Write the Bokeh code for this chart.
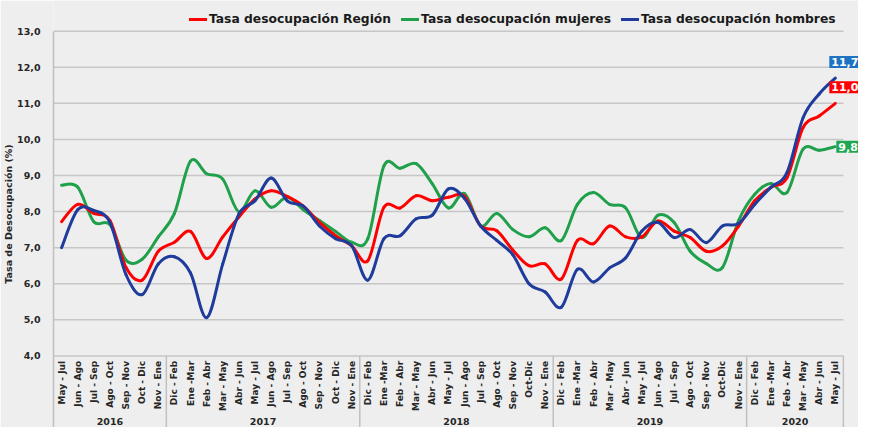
import numpy as np
from bokeh.plotting import figure
from bokeh.models import (Range1d, FixedTicker, Label, Legend, LegendItem, ColumnDataSource)
from bokeh.core.properties import value
from bokeh.embed import file_html
from bokeh.resources import INLINE

years = ["2016", "2017", "2018", "2019", "2020"]
periods_2016 = ["May - Jul", "Jun - Ago", "Jul - Sep", "Ago - Oct", "Sep - Nov", "Oct - Dic", "Nov - Ene"]
periods_2017 = ["Dic - Feb", "Ene -Mar", "Feb - Abr", "Mar - May", "Abr - Jun", "May - Jul", "Jun - Ago",
                "Jul - Sep", "Ago - Oct", "Sep - Nov", "Oct - Dic", "Nov - Ene"]
periods_2018 = ["Dic - Feb", "Ene -Mar", "Feb - Abr", "Mar - May", "Abr - Jun", "May - Jul", "Jun - Ago",
                "Jul - Sep", "Ago - Oct", "Sep - Nov", "Oct-Dic", "Nov - Ene"]
periods_2019 = ["Dic - Feb", "Ene -Mar", "Feb - Abr", "Mar - May", "Abr - Jun", "May - Jul", "Jun - Ago",
                "Jul - Sep", "Ago - Oct", "Sep - Nov", "Oct-Dic", "Nov - Ene"]
periods_2020 = ["Dic - Feb", "Ene -Mar", "Feb - Abr", "Mar - May", "Abr - Jun", "May - Jul"]
year_periods = [periods_2016, periods_2017, periods_2018, periods_2019, periods_2020]

region = [7.72, 8.20, 7.95, 7.75, 6.45, 6.10, 6.90,
          7.15, 7.45, 6.70, 7.30, 7.85, 8.35, 8.58, 8.42, 8.15, 7.70, 7.33, 7.05,
          6.64, 8.12, 8.10, 8.44, 8.30, 8.40, 8.42, 7.60, 7.47, 6.93, 6.50, 6.55,
          6.13, 7.20, 7.11, 7.60, 7.30, 7.30, 7.74, 7.46, 7.28, 6.90, 7.05, 7.60,
          8.30, 8.67, 8.94, 10.33, 10.65, 11.0]
mujeres = [8.73, 8.68, 7.72, 7.64, 6.65, 6.68, 7.30,
           7.95, 9.40, 9.05, 8.90, 8.00, 8.58, 8.12, 8.40, 8.05, 7.75, 7.45, 7.15,
           7.25, 9.27, 9.20, 9.33, 8.77, 8.10, 8.50, 7.60, 7.95, 7.50, 7.30, 7.55,
           7.20, 8.20, 8.53, 8.20, 8.10, 7.28, 7.90, 7.70, 6.90, 6.56, 6.45, 7.75,
           8.48, 8.78, 8.53, 9.73, 9.70, 9.8]
hombres = [7.00, 8.05, 8.03, 7.70, 6.25, 5.70, 6.55,
           6.75, 6.30, 5.06, 6.55, 7.93, 8.30, 8.93, 8.30, 8.15, 7.60, 7.25, 7.05,
           6.10, 7.25, 7.33, 7.80, 7.90, 8.63, 8.36, 7.60, 7.20, 6.80, 6.00, 5.77,
           5.35, 6.40, 6.05, 6.44, 6.72, 7.46, 7.70, 7.28, 7.50, 7.14, 7.60, 7.67,
           8.20, 8.67, 9.08, 10.60, 11.26, 11.7]

y_ticks = [4.0, 5.0, 6.0, 7.0, 8.0, 9.0, 10.0, 11.0, 12.0, 13.0]
y_tick_labels = ["4,0", "5,0", "6,0", "7,0", "8,0", "9,0", "10,0", "11,0", "12,0", "13,0"]

names = ["Tasa desocupación Región", "Tasa desocupación mujeres", "Tasa desocupación hombres"]
colors = ["#FF0000", "#20A04A", "#1F3C9C"]
box_colors = ["#FF0000", "#1FA651", "#1E72C2"]

FONT = "DejaVu Sans"
TXT = "#262626"
PX_PER_UNIT = 36.08      # vertical scale, px per 1 %
X_PX = 16.2              # px per category

periods = [p_ for grp in year_periods for p_ in grp]
n = len(periods)
xs = np.arange(n) + 0.5
sizes = [len(g) for g in year_periods]
bounds_ = np.concatenate([[0], np.cumsum(sizes)]).astype(float)
year_centers = (bounds_[:-1] + bounds_[1:]) / 2.0

W, H = 858, 427
LEFT = 49
TOP_PAD = 30.7           # px from figure top to the 13,0 line
y_end = y_ticks[-1] + TOP_PAD / PX_PER_UNIT
y_start = y_end - H / PX_PER_UNIT
x_end = (W - LEFT) / X_PX

p = figure(width=W, height=H,
           x_range=Range1d(0, x_end), y_range=Range1d(y_start, y_end),
           output_backend="svg", toolbar_location=None,
           x_axis_location=None, y_axis_location="left",
           min_border_left=LEFT, min_border_right=0, min_border_top=0, min_border_bottom=0,
           background_fill_color="#EEEEEE", border_fill_color="#EEEEEE",
           outline_line_color=None)
p.xgrid.visible = False
p.ygrid.visible = False

# horizontal grid lines
p.segment(x0=[bounds_[0]] * len(y_ticks), x1=[bounds_[-1]] * len(y_ticks),
          y0=y_ticks, y1=y_ticks, line_color="#C6C6C6", line_width=1.5)

# group separators below the category axis
p.segment(x0=bounds_[1:], x1=bounds_[1:], y0=[y_ticks[0]] * (len(bounds_) - 1),
          y1=[y_start] * (len(bounds_) - 1), line_color="#C0C0C0", line_width=1.5)

# y axis
ya = p.yaxis[0]
ya.ticker = FixedTicker(ticks=y_ticks)
ya.major_label_overrides = dict(zip(y_ticks, y_tick_labels))
ya.bounds = (y_start, y_ticks[-1])
ya.axis_line_color = "#C0C0C0"
ya.axis_line_width = 1.5
ya.major_tick_line_color = None
ya.minor_tick_line_color = None
ya.major_label_standoff = 7
ya.major_label_text_font = FONT
ya.major_label_text_font_style = "bold"
ya.major_label_text_font_size = "9.5px"
ya.major_label_text_color = TXT
ya.axis_label = "Tasa de Desocupación (%)"
ya.axis_label_text_font = FONT
ya.axis_label_text_font_style = "bold"
ya.axis_label_text_font_size = "9.5px"
ya.axis_label_text_color = TXT
ya.axis_label_standoff = 0

# category labels (vertical) and year labels
p.text(x=xs, y=[y_ticks[0] - 5.0 / PX_PER_UNIT] * n, text=periods, angle=np.pi / 2,
       text_align="right", text_baseline="middle",
       text_font=value(FONT), text_font_style="bold", text_font_size="9px", text_color=TXT)
p.text(x=year_centers, y=[y_ticks[0] - 66.0 / PX_PER_UNIT] * len(years), text=years,
       text_align="center", text_baseline="middle",
       text_font=value(FONT), text_font_style="bold", text_font_size="9.5px", text_color=TXT)


def smooth_source(xv, yv):
    xv = np.asarray(xv, float)
    yv = np.asarray(yv, float)
    m = len(xv)
    xp = np.concatenate([[xv[0]], xv, [xv[-1]]])
    yp = np.concatenate([[yv[0]], yv, [yv[-1]]])
    return ColumnDataSource(dict(
        x0=xp[1:m], y0=yp[1:m], x1=xp[2:m + 1], y1=yp[2:m + 1],
        cx0=xp[1:m] + (xp[2:m + 1] - xp[0:m - 1]) / 6.0,
        cy0=yp[1:m] + (yp[2:m + 1] - yp[0:m - 1]) / 6.0,
        cx1=xp[2:m + 1] - (xp[3:m + 2] - xp[1:m]) / 6.0,
        cy1=yp[2:m + 1] - (yp[3:m + 2] - yp[1:m]) / 6.0,
    ))


series = [region, mujeres, hombres]
renderers = {}
for idx in [1, 0, 2]:
    src = smooth_source(xs, series[idx])
    r = p.bezier(x0="x0", y0="y0", x1="x1", y1="y1", cx0="cx0", cy0="cy0", cx1="cx1", cy1="cy1",
                 source=src, line_color=colors[idx], line_width=3, line_cap="round")
    renderers[idx] = r

legend = Legend(items=[LegendItem(label=names[i], renderers=[renderers[i]]) for i in range(3)],
                orientation="horizontal", location=(136, H - 26),
                glyph_width=18, glyph_height=14, label_standoff=2, spacing=10,
                padding=0, margin=0, label_height=14,
                background_fill_alpha=0, border_line_color=None,
                label_text_font=FONT, label_text_font_style="bold",
                label_text_font_size="12.3px", label_text_color="#1A1A1A")
p.add_layout(legend)

# end value labels
offsets = [(-6, 16), (1, 0), (-6, 16)]
for i in range(3):
    val = series[i][-1]
    lab = Label(x=xs[-1], y=val, x_offset=offsets[i][0], y_offset=offsets[i][1],
                text=("%.1f" % val).replace(".", ","),
                text_color="white", text_font=FONT, text_font_style="bold",
                text_font_size="11px", text_baseline="middle", text_align="left",
                background_fill_color=box_colors[i], padding=2)
    p.add_layout(lab)

open("out.html", "w").write(file_html(p, INLINE))
